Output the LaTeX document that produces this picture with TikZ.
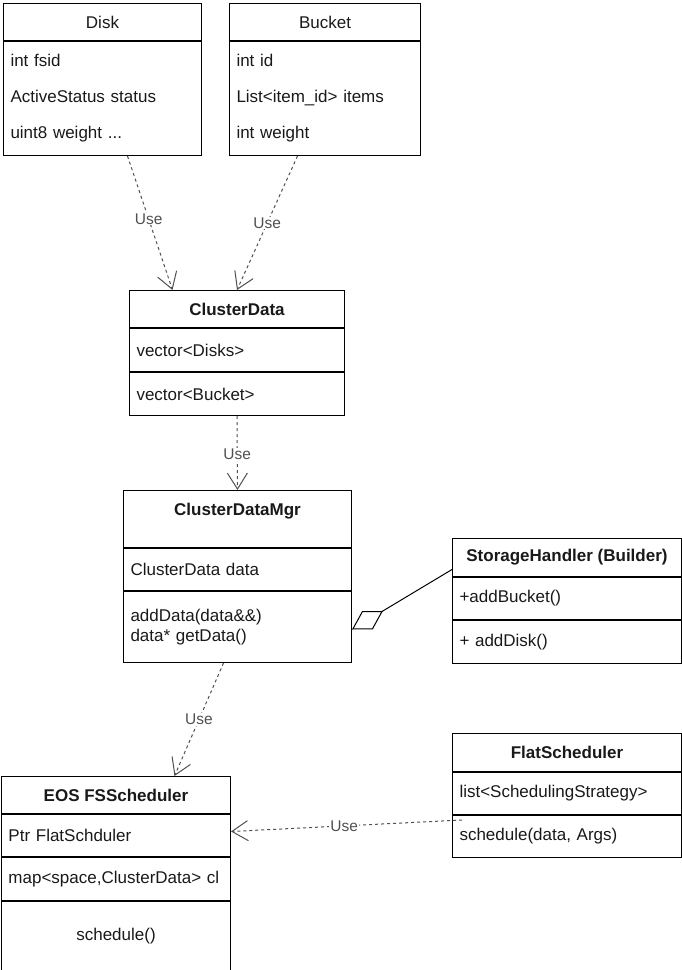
\documentclass[tikz,border=0pt]{standalone}
\usepackage{fontspec}
\setmainfont{Liberation Sans}
\usetikzlibrary{arrows.meta, positioning}
\definecolor{LineGray}{RGB}{80,80,80}
\definecolor{TextDark}{RGB}{25,25,25}
\newcommand{\umlfont}{\fontsize{17}{20}\selectfont}
\newcommand{\uselblfont}{\fontsize{15.5}{18}\selectfont}

\begin{document}
\begin{tikzpicture}[x=1pt,y=-1pt,
    hd/.style={draw,line width=1pt,anchor=north west,inner sep=0pt,
               font=\umlfont\bfseries,text=TextDark,minimum height=37pt},
    cmp/.style={draw,line width=1pt,anchor=north west,inner xsep=7pt,
                inner ysep=0pt,align=left,font=\umlfont,text=TextDark},
    dep/.style={-{Straight Barb[length=16pt,width=20pt]},LineGray,
                line width=1pt,dash pattern=on 3pt off 3pt},
    agg/.style={{Diamond[open,length=36pt,width=21pt]}-,black,line width=1pt},
    use/.style={fill=white,inner sep=1pt,font=\uselblfont,text=LineGray}
  ]
  \useasboundingbox (0,0) rectangle (682,970);

  % Disk
  \node[hd,font=\umlfont,minimum width=198pt] (disk-hd) at (3,3) {Disk};
  \node[cmp,text width=184pt,minimum height=114pt,font=\fontsize{17}{36}\selectfont]
    (disk-a) at (disk-hd.south west) {int fsid\\ActiveStatus status\\uint8 weight ...};

  % Bucket
  \node[hd,font=\umlfont,minimum width=191pt] (bk-hd) at (229,3) {Bucket};
  \node[cmp,text width=177pt,minimum height=114pt,font=\fontsize{17}{36}\selectfont]
    (bk-a) at (bk-hd.south west) {int id\\List<item\_id> items\\int weight};

  % ClusterData
  \node[hd,minimum width=215pt] (cd-hd) at (129,290) {ClusterData};
  \node[cmp,text width=201pt,minimum height=43pt] (cd-a) at (cd-hd.south west) {vector<Disks>};
  \node[cmp,text width=201pt,minimum height=43pt] (cd-m) at (cd-a.south west) {vector<Bucket>};

  % ClusterDataMgr
  \node[hd,minimum width=228pt,minimum height=57pt,text height=12pt,text depth=19pt]
    (mgr-hd) at (123,490) {ClusterDataMgr};
  \node[cmp,text width=214pt,minimum height=42pt] (mgr-a) at (mgr-hd.south west) {ClusterData data};
  \node[cmp,text width=214pt,minimum height=71pt] (mgr-m) at (mgr-a.south west)
    {addData(data\&\&)\\data* getData()};

  % StorageHandler
  \node[hd,minimum width=229pt,minimum height=38pt] (sh-hd) at (452,538) {StorageHandler (Builder)};
  \node[cmp,text width=215pt,minimum height=42pt] (sh-a) at (sh-hd.south west) {+addBucket()};
  \node[cmp,text width=215pt,minimum height=43pt] (sh-m) at (sh-a.south west) {+ addDisk()};

  % FlatScheduler
  \node[hd,minimum width=229pt,minimum height=38pt] (flat-hd) at (452,733) {FlatScheduler};
  \node[cmp,text width=215pt,minimum height=42pt] (flat-a) at (flat-hd.south west) {list<SchedulingStrategy>};
  \node[cmp,text width=215pt,minimum height=42pt] (flat-m) at (flat-a.south west) {schedule(data, Args)};

  % EOS FSScheduler
  \node[hd,minimum width=229pt] (eos-hd) at (1,776) {EOS FSScheduler};
  \node[cmp,text width=215pt,minimum height=42pt] (eos-a) at (eos-hd.south west) {Ptr FlatSchduler};
  \node[cmp,text width=215pt,minimum height=43pt] (eos-b) at (eos-a.south west) {map<space,ClusterData> cl};
  \node[cmp,align=center,text width=215pt,minimum height=70pt] (eos-m) at (eos-b.south west) {schedule()};

  % dependencies
  \draw[dep] ([xshift=25pt]disk-a.south) -- node[use,pos=0.47] (use-disk) {Use} ([xshift=-64.5pt]cd-hd.north);
  \draw[dep] ([xshift=-27.5pt]bk-a.south) -- node[use,pos=0.5] (use-bk) {Use} (cd-hd.north);
  \draw[dep] (cd-m.south) -- node[use,pos=0.52] (use-cd) {Use} (mgr-hd.north);
  \draw[dep] ([xshift=-14pt]mgr-m.south) -- node[use,pos=0.5] (use-mgr) {Use} ([xshift=58.5pt]eos-hd.north);
  \draw[dep] ([xshift=10pt,yshift=-5pt]flat-a.south west) -- node[use,pos=0.51] (use-flat) {Use}
    ([yshift=4pt]eos-a.east);

  % aggregation
  \draw[agg] ([yshift=-2.5pt]mgr-m.east) -- ([yshift=-12pt]sh-hd.west);
\end{tikzpicture}
\end{document}
